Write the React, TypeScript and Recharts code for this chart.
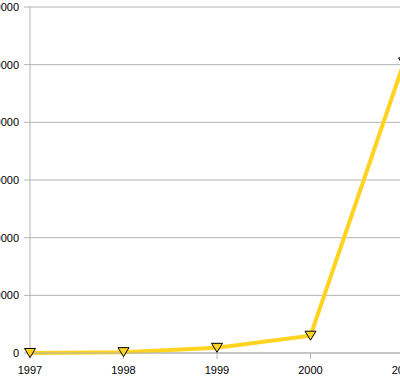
import React from 'react'
import { LineChart, Line, XAxis, YAxis, CartesianGrid } from 'recharts'

const years = [1997, 1998, 1999, 2000, 2001]
const values = [0, 150, 900, 3000, 50400]
const yTicks = [0, 10000, 20000, 30000, 40000, 50000, 60000]

const data = years.map((year, i) => ({ year, value: values[i] }))

const GRID = '#b3b3b3'
const LINE = '#ffd320'

function Triangle(props: any) {
  const { cx, cy } = props
  if (cx == null || cy == null) return null
  return (
    <path
      d={`M${cx - 5.5},${cy - 4.5} L${cx + 5.5},${cy - 4.5} L${cx},${cy + 4.5} Z`}
      fill={LINE}
      stroke="#000"
      strokeWidth={1}
    />
  )
}

export default function App() {
  return (
    <div
      style={{
        position: 'absolute',
        left: 0,
        top: 0,
        width: 400,
        height: 378,
        overflow: 'hidden',
        background: '#fff'
      }}
    >
      <LineChart
        width={424}
        height={378}
        data={data}
        margin={{ top: 7, right: 20, left: 0, bottom: 0 }}
        style={{ fontFamily: '"Liberation Sans", Arial, sans-serif', overflow: 'visible' }}
      >
        <CartesianGrid vertical={false} stroke={GRID} />
        <XAxis
          dataKey="year"
          type="number"
          domain={[1997, 2001]}
          ticks={years}
          height={25}
          stroke={GRID}
          tickSize={6}
          tickMargin={7}
          tick={{ fill: '#000', fontSize: 11 }}
        />
        <YAxis
          domain={[0, 60000]}
          ticks={yTicks}
          width={30}
          stroke={GRID}
          tickSize={6}
          tickMargin={5}
          tick={{ fill: '#000', fontSize: 11 }}
        />
        <Line
          dataKey="value"
          stroke={LINE}
          strokeWidth={4}
          dot={<Triangle />}
          activeDot={false}
          isAnimationActive={false}
        />
      </LineChart>
    </div>
  )
}
